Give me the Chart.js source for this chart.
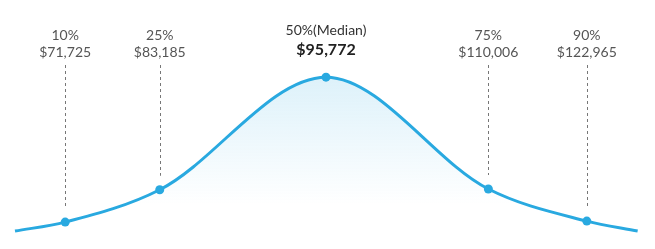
<!DOCTYPE html>
<html>
<head>
<meta charset="utf-8">
<script src="https://cdn.jsdelivr.net/npm/chart.js@4/dist/chart.umd.min.js"></script>
<style>
  html, body { margin: 0; padding: 0; background: #fff; }
  #wrap { width: 655px; height: 249px; position: relative; }
</style>
</head>
<body>
<div id="wrap"><canvas id="dist"></canvas></div>
<script>
// position along the curve (0-100 of plot width), and curve height (0-100 of plot height)
const positions = [2.3, 10, 24.5, 50, 74.9, 90, 97.8];
const heights = [7.2, 10.8, 23.8, 69, 24.1, 11.2, 7.2];
const pctLabels = ['', '10%', '25%', '50%(Median)', '75%', '90%', ''];
const salaryLabels = ['', '$71,725', '$83,185', '$95,772', '$110,006', '$122,965', ''];
const medianIndex = 3;

const lineColor = '#29a9e0';

const labelPlugin = {
  id: 'pctLabels',
  afterDatasetsDraw: (chart) => {
    const { ctx } = chart;
    const meta = chart.getDatasetMeta(0);
    ctx.save();
    ctx.textAlign = 'center';
    ctx.textBaseline = 'middle';
    meta.data.forEach((pt, i) => {
      if (!pctLabels[i]) return;
      const x = pt.x;
      if (i === medianIndex) {
        ctx.fillStyle = '#333';
        ctx.font = '14px Lato, sans-serif';
        ctx.fillText(pctLabels[i], x, 30);
        ctx.fillStyle = '#222';
        ctx.font = 'bold 16px Lato, sans-serif';
        ctx.fillText(salaryLabels[i], x, 50);
        return;
      }
      // dashed guide from label to point
      ctx.strokeStyle = '#777';
      ctx.lineWidth = 1;
      ctx.setLineDash([3, 3]);
      ctx.beginPath();
      ctx.moveTo(Math.round(x) + 0.5, 65);
      ctx.lineTo(Math.round(x) + 0.5, pt.y - 14);
      ctx.stroke();
      ctx.setLineDash([]);

      ctx.fillStyle = '#555';
      ctx.font = '14px Lato, sans-serif';
      ctx.fillText(pctLabels[i], x, 35);
      ctx.fillText(salaryLabels[i], x, 52);
    });
    ctx.restore();
  }
};

const ctx = document.getElementById('dist').getContext('2d');

new Chart(ctx, {
  type: 'line',
  data: {
    datasets: [{
      data: positions.map((p, i) => ({ x: p, y: heights[i] })),
      borderColor: lineColor,
      borderWidth: 3,
      cubicInterpolationMode: 'monotone',
      pointRadius: pctLabels.map(l => l ? 4.5 : 0),
      pointBackgroundColor: lineColor,
      pointBorderWidth: 0,
      fill: 'origin',
      backgroundColor: (context) => {
        const area = context.chart.chartArea;
        if (!area) return 'rgba(41,169,224,0.12)';
        const g = context.chart.ctx.createLinearGradient(0, 75, 0, 205);
        g.addColorStop(0, 'rgba(41,169,224,0.16)');
        g.addColorStop(1, 'rgba(41,169,224,0)');
        return g;
      }
    }]
  },
  options: {
    responsive: true,
    maintainAspectRatio: false,
    animation: false,
    layout: { padding: { left: 0, right: 3, top: 0, bottom: 0 } },
    scales: {
      x: { type: 'linear', min: 0, max: 100, display: false },
      y: { min: 0, max: 100, display: false }
    },
    plugins: {
      legend: { display: false },
      tooltip: { enabled: false }
    }
  },
  plugins: [labelPlugin]
});
</script>
</body>
</html>
